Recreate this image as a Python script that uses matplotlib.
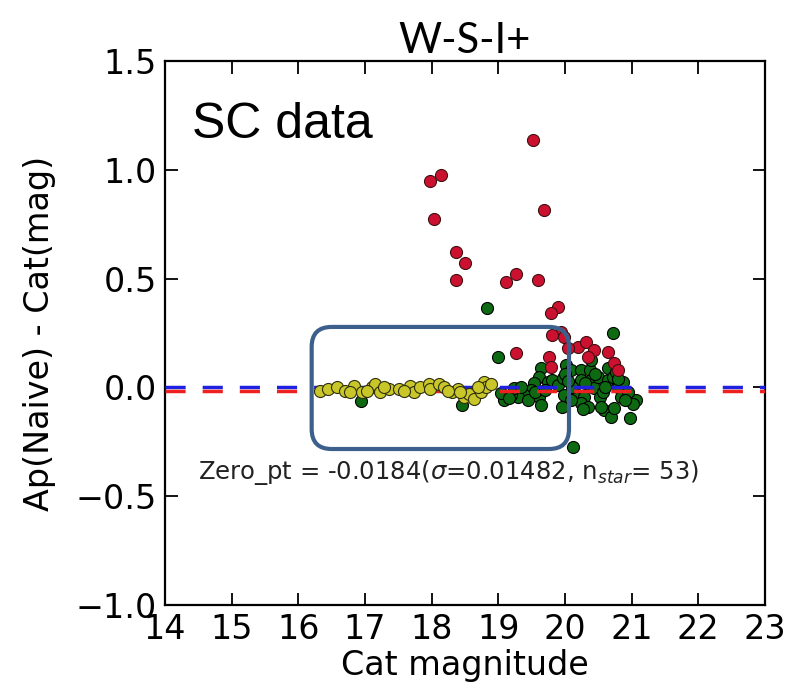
import matplotlib
matplotlib.use("Agg")
import matplotlib.pyplot as plt
from matplotlib.patches import FancyBboxPatch
import numpy as np

# stars used for the zero point (yellow)
used_x = [16.33, 16.45, 16.58, 16.70, 16.83, 16.95, 17.10, 17.15, 17.23, 17.36,
          17.51, 17.68, 17.73, 17.83, 17.96, 17.98, 18.11, 18.19, 18.31, 18.39,
          18.49, 18.56, 18.64, 18.74, 18.79, 18.81, 18.89, 18.43, 16.78, 17.03,
          17.28, 17.58, 18.24, 18.69]
used_y = [-0.015, -0.008, 0.000, -0.015, 0.008, -0.023, 0.000, 0.015, -0.023, -0.008,
          -0.008, 0.008, -0.023, 0.000, 0.015, -0.008, 0.015, 0.000, -0.023, -0.008,
          -0.046, -0.031, -0.054, -0.023, 0.023, 0.000, 0.015, -0.023, -0.023, -0.015,
          0.000, -0.015, -0.015, 0.000]

# other matched stars (green)
green_x = [16.94, 18.46, 18.83, 18.99, 20.72, 20.12, 20.98, 21.07, 21.02, 20.59,
           20.69, 19.64, 19.61, 19.54, 19.49, 19.39, 19.29, 19.19, 19.09, 19.04,
           19.61, 19.64, 19.74, 19.81, 19.89, 19.97, 20.02, 20.09, 20.14, 20.17,
           20.24, 20.24, 20.29, 20.37, 20.39, 20.44, 20.49, 20.52, 20.54, 20.64,
           20.64, 20.72, 20.77, 20.79, 20.84, 20.87, 20.94, 20.24, 20.34, 20.39,
           19.99, 20.09, 19.24, 19.34, 19.16, 19.45, 19.55, 20.00, 20.10, 20.30,
           20.45, 20.57, 20.60, 20.80, 20.90, 20.74, 20.27, 19.95, 19.70, 20.05]
green_y = [-0.063, -0.080, 0.363, 0.140, 0.249, -0.273, -0.142, -0.058, -0.075, -0.104,
           -0.135, 0.088, 0.049, 0.019, -0.012, -0.035, -0.043, -0.035, -0.058, -0.027,
           -0.043, -0.081, 0.026, 0.034, 0.011, 0.042, 0.103, 0.080, 0.003, -0.050,
           0.080, 0.034, -0.043, 0.080, 0.034, -0.004, 0.049, -0.043, -0.088, 0.034,
           0.088, 0.049, 0.072, 0.003, -0.043, 0.026, -0.019, -0.073, -0.088, 0.126,
           -0.035, -0.058, -0.004, 0.003, -0.050, -0.060, -0.020, 0.060, 0.000, 0.020,
           0.060, -0.020, 0.000, 0.040, -0.060, -0.095, -0.100, -0.090, -0.010, 0.030]

# rejected stars (red)
red_x = [17.98, 18.14, 18.04, 19.52, 19.69, 18.36, 18.50, 18.36, 19.12, 19.27,
         19.60, 19.89, 19.79, 19.94, 19.81, 19.99, 19.26, 20.19, 20.32, 20.44,
         20.64, 20.74, 20.34, 19.76, 19.79, 20.04, 20.79]
red_y = [0.947, 0.977, 0.776, 1.137, 0.816, 0.624, 0.571, 0.493, 0.483, 0.522,
         0.493, 0.371, 0.340, 0.256, 0.241, 0.233, 0.160, 0.187, 0.210, 0.172,
         0.164, 0.111, 0.141, 0.141, 0.095, 0.180, 0.080]

zero_pt = -0.0184
sigma = 0.01482
n_star = 53

fig = plt.figure(figsize=(7.85, 6.88), dpi=100)
ax = fig.add_axes([0.2102, 0.1206, 0.7643, 0.7907])

ax.scatter(green_x, green_y, s=75, c="#0e6a12", edgecolors="black", linewidths=0.8, zorder=2)
ax.scatter(red_x, red_y, s=75, c="#cc1030", edgecolors="#401010", linewidths=0.8, zorder=2)
ax.axhline(0.0, color="#2020e0", lw=2.5, dashes=(5.8, 4.9), zorder=3)
ax.axhline(zero_pt, color="#ee2020", lw=2.5, dashes=(5.8, 4.9), zorder=3)
ax.scatter(used_x, used_y, s=75, c="#c8c628", edgecolors="#303010", linewidths=0.8, zorder=4)

ax.set_xlim(14, 23)
ax.set_ylim(-1.0, 1.5)
ax.set_xticks(np.arange(14, 24, 1))
ax.set_yticks([-1.0, -0.5, 0.0, 0.5, 1.0, 1.5])
ax.set_yticklabels(["\u22121.0", "\u22120.5", "0.0", "0.5", "1.0", "1.5"])
ax.tick_params(direction="in", length=9, width=1.3, labelsize=24, top=True, right=True, pad=6)
for sp in ax.spines.values():
    sp.set_linewidth(1.6)

ax.set_xlabel("Cat magnitude", fontsize=24, labelpad=2)
ax.set_ylabel("Ap(Naive) - Cat(mag)", fontsize=24, labelpad=14)
ax.set_title("W-S-I+", fontsize=30, family="Lato", pad=6)

ax.text(14.4, 1.206, "SC data", fontsize=36, family="Liberation Sans", va="center", ha="left")
ax.text(14.5, -0.389,
        "Zero_pt = %.4f($\\sigma$=%.5f, n$_{star}$= %d)" % (zero_pt, sigma, n_star),
        fontsize=17.5, va="center", ha="left", color="#222222")

box = FancyBboxPatch((16.2, -0.283), 3.86, 0.561,
                     boxstyle="round,pad=0,rounding_size=0.3", mutation_aspect=0.306,
                     fill=False, ec="#3d5f8c", lw=3.0, zorder=5)
ax.add_patch(box)

fig.savefig("out.png", dpi=100)
